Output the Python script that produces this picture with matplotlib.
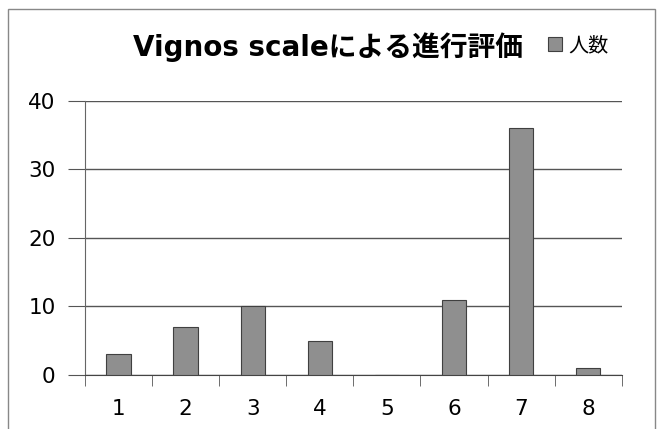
import matplotlib
matplotlib.use("Agg")
from matplotlib import pyplot as plt
from matplotlib.patches import Rectangle

plt.rcParams['font.family'] = ['DejaVu Sans', 'Noto Sans CJK JP']

categories = [1, 2, 3, 4, 5, 6, 7, 8]
counts = [3, 7, 10, 5, 0, 11, 36, 1]
title = "Vignos scaleによる進行評価"
series_name = "人数"

fig = plt.figure(figsize=(6.58, 4.29), dpi=100)
ax = fig.add_axes([0.129, 0.126, 0.816, 0.639])

ax.bar(categories, counts, width=0.36, color="#8f8f8f", edgecolor="#404040",
       linewidth=0.8, label=series_name, zorder=3)

ax.set_xlim(0.5, 8.5)
ax.set_ylim(0, 40)
ax.set_yticks([0, 10, 20, 30, 40])
ax.set_xticks(categories)
ax.set_xticks([c - 0.5 for c in categories] + [8.5], minor=True)
ax.tick_params(axis='x', which='major', length=0, pad=17, labelsize=15.5)
ax.tick_params(axis='x', which='minor', length=8, color="#555555")
ax.tick_params(axis='y', length=12, color="#555555", pad=9, labelsize=15.5)
ax.grid(axis='y', color="#555555", linewidth=1, zorder=0)

for side in ['top', 'right']:
    ax.spines[side].set_visible(False)
ax.spines['left'].set_color("#666666")
ax.spines['bottom'].set_color("#444444")

fig.text(0.499, 0.89, title, ha='center', va='center', fontsize=20, fontweight='bold')
ax.legend(loc='center left', bbox_to_anchor=(0.828, 1.2), frameon=False,
          fontsize=14.5, handlelength=0.7, handleheight=0.7, handletextpad=0.35)

# outer chart border
fig.patches.append(Rectangle((0.012, -0.05), 0.983, 1.03, transform=fig.transFigure,
                             fill=False, edgecolor="#888888", linewidth=1))

fig.savefig("out.png", dpi=100)
